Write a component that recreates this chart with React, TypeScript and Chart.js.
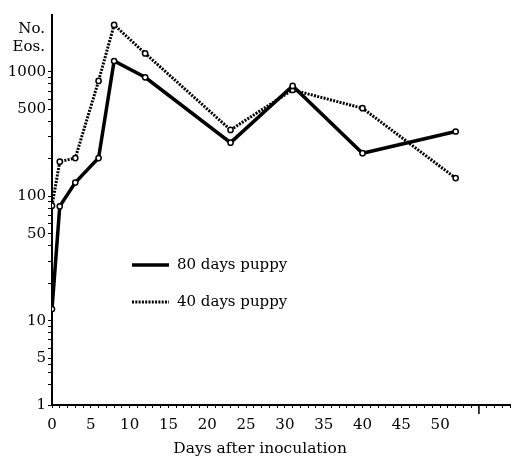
import React, { useEffect, useRef } from 'react';
import { Chart, registerables } from 'chart.js';

Chart.register(...registerables);

// ---- data ----
const days = [0, 1, 3, 6, 8, 12, 23, 31, 40, 52];
const puppy80 = [12.4, 83, 129, 203, 1225, 906, 270, 772, 222, 332];
const puppy40 = [84, 190, 203, 847, 2390, 1410, 342, 717, 511, 140];
const seriesLabels = ['80 days puppy', '40 days puppy'];
const yMajorTicks = [1, 5, 10, 50, 100, 500, 1000];
const yMinorTicks = [2, 3, 4, 6, 7, 8, 9, 20, 30, 40, 60, 70, 80, 90, 200, 300, 400, 600, 700, 800, 900];
const xLabelTicks = [0, 5, 10, 15, 20, 25, 30, 35, 40, 45, 50];
const xExtraTick = 55;
const yTitleLines = ['No.', 'Eos.'];
const xTitle = 'Days after inoculation';
const xTitleCenterDay = 26.8;

// axis with compressed bottom segment (1..5)
const BREAK = 5;
const AXIS_AT_1 = 0.3215;
const AXIS_TOP = 3.458;
function toAxis(v: number): number {
  if (v >= BREAK) return Math.log10(v);
  const lb = Math.log10(BREAK);
  return AXIS_AT_1 + (lb - AXIS_AT_1) * Math.log10(v) / lb;
}

const FONT = '"DejaVu Serif", "Liberation Serif", serif';

export default function App() {
  const ref = useRef<HTMLCanvasElement | null>(null);

  useEffect(() => {
    if (!ref.current) return;
    const overlay = {
      id: 'overlay',
      afterDraw(chart: any) {
        const { ctx, chartArea, scales } = chart;
        ctx.save();
        ctx.fillStyle = '#000';
        ctx.font = `15px ${FONT}`;
        ctx.textAlign = 'right';
        ctx.textBaseline = 'middle';
        ctx.fillText(yTitleLines[0], chartArea.left - 7, chartArea.top + 14);
        ctx.fillText(yTitleLines[1], chartArea.left - 7, chartArea.top + 32);
        // legend
        chart.data.datasets.forEach((ds: any, i: number) => {
          const y = chartArea.top + 250 + i * 37;
          const x0 = chartArea.left + 80;
          ctx.beginPath();
          ctx.strokeStyle = '#000';
          ctx.lineWidth = ds.borderWidth;
          ctx.setLineDash(ds.borderDash || []);
          ctx.moveTo(x0, y);
          ctx.lineTo(x0 + 37, y);
          ctx.stroke();
          ctx.setLineDash([]);
          ctx.textAlign = 'left';
          ctx.fillText(ds.label, x0 + 45, y);
        });
        const xs = scales.x;
        // x-axis title
        ctx.textAlign = 'center';
        ctx.font = `15.5px ${FONT}`;
        ctx.fillText(xTitle, xs.getPixelForValue(xTitleCenterDay), chartArea.bottom + 44);
        // extra long tick
        const px = xs.getPixelForValue(xExtraTick);
        ctx.beginPath();
        ctx.lineWidth = 1.5;
        ctx.moveTo(px, chartArea.bottom);
        ctx.lineTo(px, chartArea.bottom + 9);
        ctx.stroke();
        ctx.restore();
      },
    };

    const chart = new Chart(ref.current, {
      type: 'line',
      data: {
        datasets: [
          {
            label: seriesLabels[0],
            data: days.map((d, i) => ({ x: d, y: toAxis(puppy80[i]) })),
            borderColor: '#000',
            borderWidth: 3.5,
            pointRadius: 2.6,
            pointBorderWidth: 1.5,
            pointBackgroundColor: '#fff',
            pointBorderColor: '#000',
            tension: 0,
          },
          {
            label: seriesLabels[1],
            data: days.map((d, i) => ({ x: d, y: toAxis(puppy40[i]) })),
            borderColor: '#000',
            borderWidth: 3,
            borderDash: [2, 1.3],
            pointRadius: 2.6,
            pointBorderWidth: 1.5,
            pointBackgroundColor: '#fff',
            pointBorderColor: '#000',
            tension: 0,
          },
        ],
      },
      options: {
        animation: false,
        responsive: false,
        maintainAspectRatio: false,
        layout: { padding: { top: 15, right: 0, left: 0, bottom: 0 } },
        plugins: { legend: { display: false }, tooltip: { enabled: false } },
        scales: {
          x: {
            type: 'linear',
            min: 0,
            max: 59,
            afterFit: (s: any) => { s.height = 53; },
            border: { display: true, color: '#000', width: 2 },
            grid: { display: true, drawOnChartArea: false, drawTicks: true, tickLength: 3, color: '#000', lineWidth: 1 },
            ticks: {
              stepSize: 1,
              autoSkip: false,
              maxRotation: 0,
              padding: 8,
              color: '#000',
              font: { family: FONT, size: 15 },
              callback: (v: any) => (xLabelTicks.includes(Number(v)) ? String(v) : ''),
            },
            title: { display: false },
          },
          y: {
            type: 'linear',
            min: toAxis(1),
            max: AXIS_TOP,
            afterFit: (s: any) => { s.width = 52; },
            afterBuildTicks: (s: any) => {
              const all = [...yMajorTicks, ...yMinorTicks].sort((a, b) => a - b);
              s.ticks = all.map((v) => ({ value: toAxis(v), orig: v }));
            },
            border: { display: true, color: '#000', width: 2 },
            grid: { display: true, drawOnChartArea: false, drawTicks: true, tickLength: 4, color: '#000', lineWidth: 1 },
            ticks: {
              autoSkip: false,
              padding: 2,
              color: '#000',
              font: { family: FONT, size: 15 },
              callback: (_v: any, i: number, ticks: any[]) => {
                const o = ticks[i] && ticks[i].orig;
                return yMajorTicks.includes(o) ? String(o) : '';
              },
            },
          },
        },
      },
      plugins: [overlay],
    } as any);
    return () => chart.destroy();
  }, []);

  return (
    <div style={{ position: 'absolute', left: 0, top: 0, width: 518, height: 458, background: '#fff' }}>
      <canvas ref={ref} width={518} height={458} style={{ display: 'block' }} />
    </div>
  );
}
